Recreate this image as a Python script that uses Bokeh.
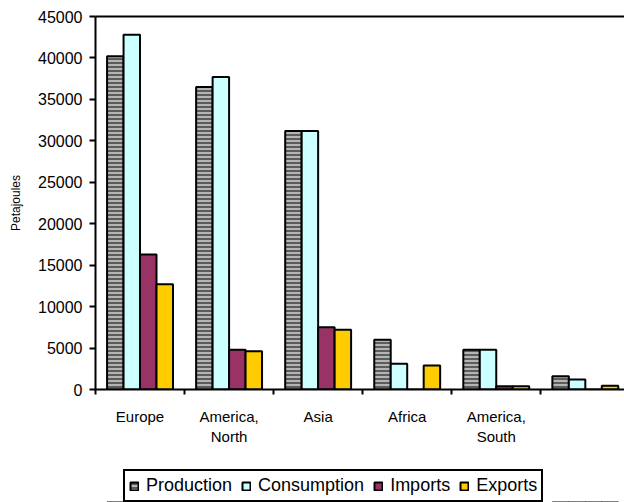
from bokeh.plotting import figure
from bokeh.layouts import column
from bokeh.models import (ColumnDataSource, Range1d, FixedTicker, LinearAxis,
                          Legend, LegendItem)
from bokeh.transform import dodge
from bokeh.embed import file_html
from bokeh.resources import INLINE

categories = ["Europe", "America, North", "Asia", "Africa", "America, South", "Oceania"]
tick_labels = ["Europe", "America,\nNorth", "Asia", "Africa", "America,\nSouth", ""]
series_names = ["Production", "Consumption", "Imports", "Exports"]
production = [40200, 36500, 31200, 6000, 4800, 1600]
consumption = [42800, 37700, 31200, 3100, 4800, 1200]
imports = [16300, 4800, 7500, 0, 400, 0]
exports = [12700, 4600, 7200, 2900, 400, 450]
y_ticks = [0, 5000, 10000, 15000, 20000, 25000, 30000, 35000, 40000, 45000]

pos = list(range(1, len(categories) + 1))
src = ColumnDataSource(dict(x=pos, cat=categories, production=production,
                            consumption=consumption, imports=imports, exports=exports))

FONT = "Liberation Sans"

p = figure(frame_width=529, frame_height=373, output_backend="svg", toolbar_location=None,
           x_range=Range1d(0.5, 6.44), y_range=Range1d(0, 45000),
           min_border_left=95, min_border_top=16, min_border_right=0, min_border_bottom=68,
           background_fill_color="white", border_fill_color="white")
p.outline_line_color = None
p.xgrid.visible = False
p.ygrid.visible = False

bw = 0.185
specs = [
    ("production", -0.2775, dict(fill_color="#b4b4b4", hatch_pattern="horizontal_line",
                                  hatch_color="#5c5c5c", hatch_scale=4, hatch_weight=2)),
    ("consumption", -0.0925, dict(fill_color="#ccffff")),
    ("imports", 0.0925, dict(fill_color="#993366")),
    ("exports", 0.2775, dict(fill_color="#ffcc00")),
]
for field, off, style in specs:
    p.vbar(x=dodge("x", off, range=p.x_range), top=field, width=bw, source=src,
           line_color="black", line_width=2, **style)

# y axis
yax = p.yaxis[0]
yax.ticker = FixedTicker(ticks=y_ticks)
yax.axis_label = "Petajoules"
yax.axis_label_text_font = FONT
yax.axis_label_text_font_style = "normal"
yax.axis_label_text_font_size = "12px"
yax.axis_label_text_color = "black"
yax.axis_label_standoff = 12
yax.major_label_text_font = FONT
yax.major_label_text_font_size = "16px"
yax.major_label_text_color = "black"
yax.axis_line_width = 2
yax.axis_line_color = "black"
yax.major_tick_in = 0
yax.major_tick_out = 6
yax.major_tick_line_width = 2
yax.minor_tick_line_color = None
yax.major_label_standoff = 7

# x axis: labels at category centers, ticks at boundaries
xax = p.xaxis[0]
boundaries = [b + 0.5 for b in range(0, len(categories) + 1)]
xax.ticker = FixedTicker(ticks=pos, minor_ticks=boundaries)
xax.major_label_overrides = {i: lab for i, lab in zip(pos, tick_labels)}
xax.major_label_text_font = FONT
xax.major_label_text_font_size = "15px"
xax.major_label_text_color = "black"
xax.major_tick_line_color = None
xax.major_tick_out = 0
xax.major_tick_in = 0
xax.minor_tick_in = 0
xax.minor_tick_out = 5
xax.minor_tick_line_width = 2
xax.minor_tick_line_color = "black"
xax.axis_line_width = 2
xax.axis_line_color = "black"
xax.major_label_standoff = 13

# top border line
top = LinearAxis(ticker=FixedTicker(ticks=[]), axis_line_width=2, axis_line_color="black",
                 major_tick_line_color=None, minor_tick_line_color=None,
                 major_label_text_font_size="0px")
p.add_layout(top, "above")

# legend strip below the chart (its bars lie below its own visible y range)
lf = figure(width=624, height=45, output_backend="svg", toolbar_location=None,
            x_axis_type=None, y_axis_type=None,
            x_range=Range1d(0.5, 6.44), y_range=Range1d(50000, 95000),
            min_border=0, background_fill_color="white", border_fill_color="white")
lf.outline_line_color = None
lf.xgrid.visible = False
lf.ygrid.visible = False
legend_renderers = []
for field, off, style in specs:
    r = lf.vbar(x=dodge("x", off, range=lf.x_range), top=field, width=bw, source=src,
                line_color="black", line_width=2, **style)
    legend_renderers.append(r)

legend = Legend(items=[LegendItem(label=n, renderers=[r])
                       for n, r in zip(series_names, legend_renderers)],
                orientation="horizontal", location=(28, 0),
                label_text_font=FONT, label_text_font_size="18px", label_text_color="black",
                glyph_width=10, glyph_height=10, label_standoff=7, spacing=9,
                padding=4, margin=0,
                border_line_color="black", border_line_width=2, border_line_alpha=1.0,
                background_fill_color="white", background_fill_alpha=1.0,
                label_height=18)
lf.add_layout(legend, "center")

layout = column(p, lf, spacing=0)
open("out.html", "w").write(file_html(layout, INLINE))
